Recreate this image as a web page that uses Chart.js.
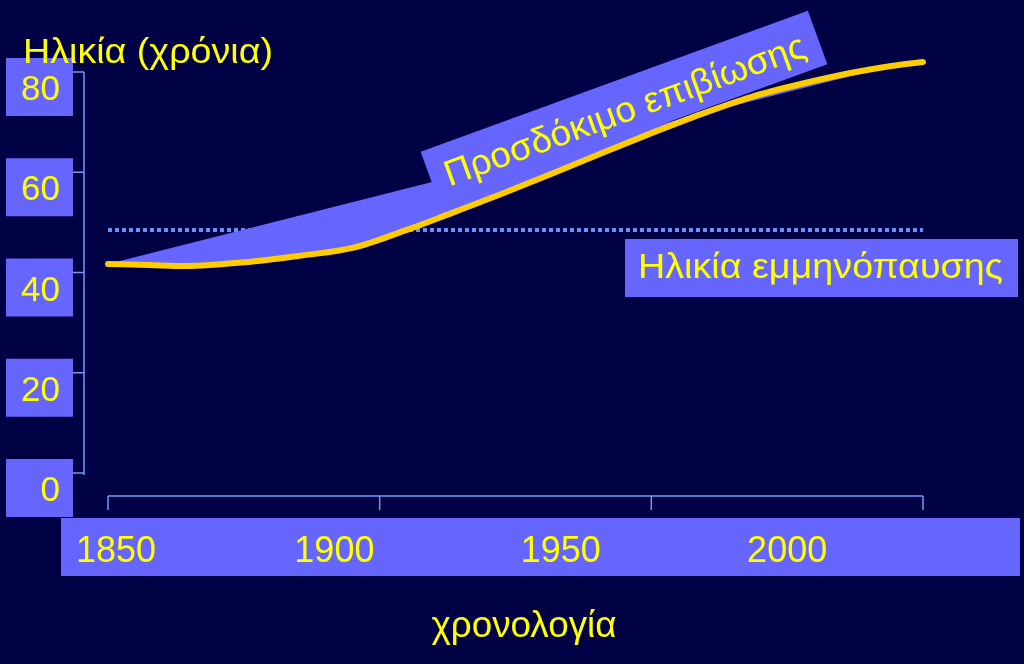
<!DOCTYPE html>
<html lang="el">
<head>
<meta charset="UTF-8">
<title>Προσδόκιμο επιβίωσης</title>
<script src="https://cdn.jsdelivr.net/npm/chart.js"></script>
<style>
  html, body { margin: 0; padding: 0; background: #000044; }
  canvas { display: block; }
</style>
</head>
<body>
<canvas id="chart" width="1024" height="664"></canvas>
<script>
// life expectancy curve (year, age)
const years    = [1850, 1859, 1867, 1881, 1892, 1904, 1916, 1926, 1937, 1948, 1959, 1970, 1981, 1992, 2003, 2014, 2023, 2030];
const lifeExp  = [41.7, 41.5, 41.3, 42.1, 43.3, 44.9, 48.5, 51.9, 55.7, 59.7, 63.8, 67.8, 71.6, 75.0, 77.6, 79.8, 81.2, 82.0];
// straight edge of the shaded wedge
const wedgeYears  = [1850, 2022];
const wedgeValues = [41.7, 81.0];
// menopause age (dotted)
const menoYears  = [1850, 2030];
const menoValues = [48.5, 48.5];

const yTicks      = [0, 20, 40, 60, 80];
const xLabels     = [1850, 1900, 1950, 2000];
const xTickYears  = [1850, 1910, 1970, 2030];

const FONT = "'Liberation Sans', Arial, sans-serif";
const NAVY = '#000044';
const BOX = '#6666ff';
const TEXT = '#ffff00';
const AXIS = '#6e9cf5';

const pts = (xs, ys) => xs.map((x, i) => ({ x: x, y: ys[i] }));

// the slide's Greek text runs a little wider than Liberation Sans, stretch it to width
function wideText(c, txt, x, y, size, width, align) {
  c.save();
  c.font = size + 'px ' + FONT;
  const w = c.measureText(txt).width;
  const sx = width / w;
  let left = x;
  if (align === 'center') left = x - width / 2;
  c.translate(left, y);
  c.scale(sx, 1);
  c.textAlign = 'left';
  c.fillText(txt, 0, 0);
  c.restore();
}

const decor = {
  id: 'decor',
  beforeDraw(chart) {
    const c = chart.ctx;
    c.save();
    c.fillStyle = NAVY;
    c.fillRect(0, 0, chart.width, chart.height);
    c.restore();
  },
  afterDatasetsDraw(chart) {
    const c = chart.ctx;
    const xs = chart.scales.x, ys = chart.scales.y;
    c.save();

    // y axis, offset to the left
    const ax = xs.left - 24;
    c.strokeStyle = AXIS;
    c.lineWidth = 1.5;
    c.beginPath();
    c.moveTo(ax, ys.getPixelForValue(80));
    c.lineTo(ax, ys.getPixelForValue(0) + 2);
    yTicks.forEach(v => {
      const py = ys.getPixelForValue(v);
      c.moveTo(ax, py);
      c.lineTo(ax - 11, py);
    });
    c.stroke();

    // y tick labels in boxes
    c.font = '35px ' + FONT;
    c.textAlign = 'right';
    c.textBaseline = 'alphabetic';
    yTicks.forEach(v => {
      const py = ys.getPixelForValue(v);
      c.fillStyle = BOX;
      c.fillRect(6, py - 14, 67, 58);
      c.fillStyle = TEXT;
      c.fillText(String(v), 60, py + 28);
    });

    // x axis below the plot
    const by = ys.getPixelForValue(0) + 23;
    c.strokeStyle = AXIS;
    c.beginPath();
    c.moveTo(xs.getPixelForValue(1850), by);
    c.lineTo(xs.getPixelForValue(2030), by);
    xTickYears.forEach(yr => {
      const px = xs.getPixelForValue(yr);
      c.moveTo(px, by);
      c.lineTo(px, by + 14);
    });
    c.stroke();

    // x labels on a long bar
    c.fillStyle = BOX;
    c.fillRect(61, 518, 959, 58);
    c.font = '36px ' + FONT;
    c.textAlign = 'center';
    c.fillStyle = TEXT;
    xLabels.forEach(yr => {
      const px = Math.max(xs.getPixelForValue(yr), 116);
      c.fillText(String(yr), px, 562);
    });

    // axis titles
    wideText(c, 'Ηλικία (χρόνια)', 23, 63, 35, 250, 'left');
    wideText(c, 'χρονολογία', 524, 637, 36, 185, 'center');

    // menopause label
    c.fillStyle = BOX;
    c.fillRect(625, 239, 393, 58);
    c.fillStyle = TEXT;
    wideText(c, 'Ηλικία εμμηνόπαυσης', 638, 278, 35, 365, 'left');

    // tilted life expectancy label
    c.translate(624, 108);
    c.rotate(-20 * Math.PI / 180);
    c.fillStyle = BOX;
    c.fillRect(-206, -28.5, 412, 57);
    c.fillStyle = TEXT;
    wideText(c, 'Προσδόκιμο επιβίωσης', 0, 14, 36, 382, 'center');

    c.restore();
  }
};

new Chart(document.getElementById('chart'), {
  type: 'line',
  data: {
    datasets: [
      {
        label: 'Προσδόκιμο επιβίωσης',
        data: pts(years, lifeExp),
        borderColor: '#ffcc00',
        borderWidth: 6,
        borderCapStyle: 'round',
        borderJoinStyle: 'round',
        cubicInterpolationMode: 'monotone',
        pointRadius: 0,
        fill: false,
        clip: false
      },
      {
        label: 'wedge',
        data: pts(wedgeYears, wedgeValues),
        borderWidth: 0,
        borderColor: 'rgba(0,0,0,0)',
        backgroundColor: BOX,
        pointRadius: 0,
        fill: { target: 0 },
        clip: false
      },
      {
        label: 'Ηλικία εμμηνόπαυσης',
        data: pts(menoYears, menoValues),
        borderColor: '#6393f7',
        borderWidth: 4,
        borderDash: [4, 3],
        pointRadius: 0,
        fill: false,
        clip: false
      }
    ]
  },
  options: {
    responsive: false,
    animation: false,
    layout: { padding: { left: 108, right: 101, top: 72, bottom: 191 } },
    plugins: {
      legend: { display: false },
      tooltip: { enabled: false },
      filler: { propagate: false }
    },
    scales: {
      x: { type: 'linear', min: 1850, max: 2030, display: false },
      y: { min: 0, max: 80, display: false }
    }
  },
  plugins: [decor]
});
</script>
</body>
</html>
